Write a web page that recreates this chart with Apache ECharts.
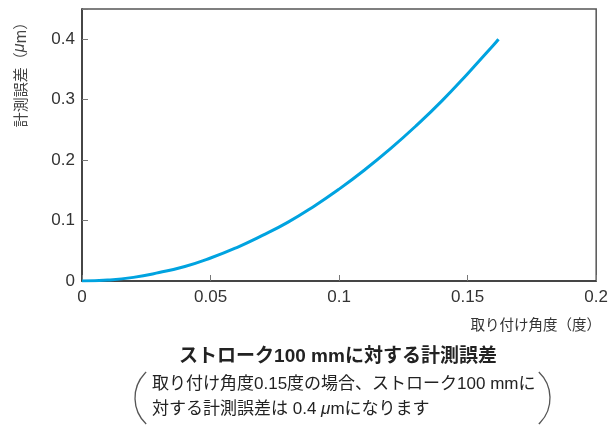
<!DOCTYPE html>
<html>
<head>
<meta charset="utf-8">
<script src="https://cdn.jsdelivr.net/npm/echarts@6/dist/echarts.min.js"></script>
<style>
	html, body { margin: 0; padding: 0; background: #fff; }
	#chart { width: 611px; height: 425px; }
</style>
</head>
<body>
<div id="chart"></div>
<script>
const angles = [0, 0.01, 0.02, 0.03, 0.04, 0.05, 0.06, 0.07, 0.08, 0.09, 0.1, 0.11, 0.12, 0.13, 0.14, 0.15, 0.16, 0.162];
const errors = [0, 0.0015, 0.006, 0.014, 0.024, 0.038, 0.055, 0.075, 0.097, 0.123, 0.152, 0.184, 0.219, 0.257, 0.298, 0.343, 0.39, 0.4];
const xTicks = [0, 0.05, 0.1, 0.15, 0.2];
const yTicks = [0, 0.1, 0.2, 0.3, 0.4];

const FONT = "'Liberation Sans', 'Noto Sans CJK JP', sans-serif";
const JP = "'Noto Sans CJK JP', sans-serif";
const PAREN = 0.81; // half angle of the bracket arcs

const chart = echarts.init(document.getElementById("chart"));
chart.setOption({
	animation: false,
	grid: {
		left: 82,
		right: 14,
		top: 9,
		bottom: 144,
		show: true,
		borderColor: "#555",
		borderWidth: 1.5
	},
	xAxis: {
		type: "value",
		min: 0,
		max: 0.2,
		interval: 0.05,
		axisLine: { lineStyle: { color: "#333", width: 1.5 } },
		axisTick: { inside: true, length: 6, lineStyle: { color: "#777" } },
		splitLine: { show: false },
		axisLabel: {
			color: "#333",
			fontSize: 17,
			fontFamily: FONT,
			margin: 8,
			formatter: v => (xTicks.includes(+v.toFixed(2)) ? String(+v.toFixed(2)) : "")
		}
	},
	yAxis: {
		type: "value",
		min: 0,
		max: 0.45,
		interval: 0.1,
		axisLine: { show: true, lineStyle: { color: "#333", width: 1.5 } },
		axisTick: { inside: true, length: 6, lineStyle: { color: "#777" } },
		splitLine: { show: false },
		axisLabel: {
			color: "#333",
			fontSize: 17,
			fontFamily: FONT,
			margin: 7,
			formatter: v => (yTicks.includes(+v.toFixed(2)) ? String(+v.toFixed(2)) : "")
		}
	},
	series: [
		{
			type: "line",
			data: angles.map((a, i) => [a, errors[i]]),
			smooth: true,
			showSymbol: false,
			lineStyle: { color: "#00a3e0", width: 3 }
		}
	],
	graphic: [
		{
			type: "text",
			x: 20,
			y: 71,
			rotation: Math.PI / 2,
			style: {
				text: "計測誤差（{i|μ}m）",
				fill: "#444",
				fontSize: 15,
				fontFamily: JP,
				align: "center",
				verticalAlign: "middle",
				rich: { i: { fontStyle: "italic", fontSize: 16, fontFamily: FONT, fill: "#444" } }
			}
		},
		{
			type: "text",
			x: 601,
			y: 324,
			style: {
				text: "取り付け角度（度）",
				fill: "#333",
				fontSize: 14.5,
				fontFamily: JP,
				align: "right",
				verticalAlign: "middle"
			}
		},
		{
			type: "text",
			x: 338,
			y: 357,
			style: {
				text: "ストローク100 mmに対する計測誤差",
				fill: "#222",
				fontSize: 19,
				fontWeight: "bold",
				fontFamily: FONT,
				align: "center",
				verticalAlign: "middle"
			}
		},
		{
			type: "text",
			x: 152,
			y: 384,
			style: {
				text: "取り付け角度0.15度の場合、ストローク100 mmに",
				fill: "#222",
				fontSize: 17,
				fontFamily: FONT,
				align: "left",
				verticalAlign: "middle"
			}
		},
		{
			type: "text",
			x: 152,
			y: 409,
			style: {
				text: "対する計測誤差は 0.4 {i|μ}mになります",
				fill: "#222",
				fontSize: 17,
				fontFamily: FONT,
				align: "left",
				verticalAlign: "middle",
				rich: { i: { fontStyle: "italic", fontSize: 17, fontFamily: FONT, fill: "#222" } }
			}
		},
		{
			type: "arc",
			shape: { cx: 171, cy: 398, r: 36, startAngle: Math.PI - PAREN, endAngle: Math.PI + PAREN, clockwise: true },
			style: { stroke: "#555", lineWidth: 1.3, fill: null }
		},
		{
			type: "arc",
			shape: { cx: 514, cy: 398, r: 36, startAngle: -PAREN, endAngle: PAREN, clockwise: true },
			style: { stroke: "#555", lineWidth: 1.3, fill: null }
		}
	]
});
</script>
</body>
</html>
